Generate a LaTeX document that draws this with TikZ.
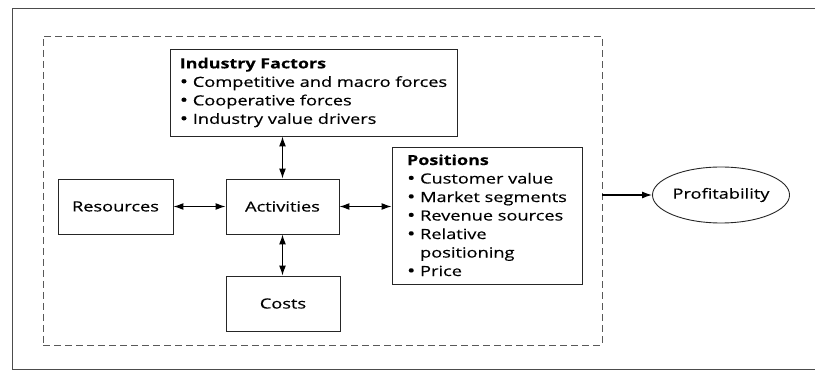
\documentclass[tikz,border=0pt]{standalone}
\usepackage{fontspec}
\setmainfont[FakeStretch=1.3,FakeBold=0.4,BoldFeatures={FakeStretch=1.28,FakeBold=0.1}]{Open Sans}
\usetikzlibrary{arrows.meta,shapes.geometric}
\newcommand{\mybul}{\raisebox{-0.6pt}{\fontsize{17}{17}\selectfont •}}
\begin{document}
\begin{tikzpicture}[x=1pt,y=-1pt,
  box/.style={draw=black!85,line width=0.9pt,inner sep=0pt,font=\fontsize{14}{18.5}\selectfont},
  dbl/.style={line width=1.2pt,{Latex[length=10pt,width=7pt]}-{Latex[length=10pt,width=7pt]}},
  sgl/.style={line width=1.2pt,-{Latex[length=10pt,width=7pt]}},
  frame/.style={draw=black!70,line width=0.9pt},
  dashbox/.style={draw=black!65,line width=0.9pt,dash pattern=on 7pt off 4pt,inner sep=0pt}]
\useasboundingbox (0,0) rectangle (815,371);
\draw[frame] (815,8) -- (12,8) -- (12,369) -- (815,369);
\node[dashbox,minimum width=559pt,minimum height=309pt] (dash) at (322.5,190.5) {};
\node[box,minimum width=287pt,minimum height=87pt,align=left] (ind) at (313.5,92.5)
  {\textbf{Industry Factors}\\\mybul{} Competitive and macro forces\\\mybul{} Cooperative forces\\\mybul{} Industry value drivers};
\node[box,minimum width=115pt,minimum height=55pt] (res) at (115.5,206.5) {Resources};
\node[box,minimum width=113pt,minimum height=55pt] (act) at (282.5,206.5) {Activities};
\node[box,minimum width=114pt,minimum height=55pt] (cost) at (283,303.5) {Costs};
\node[box,minimum width=190pt,minimum height=137pt,align=left] (pos) at (487,215.5)
  {\textbf{Positions}\\\mybul{} Customer value\\\mybul{} Market segments\\\mybul{} Revenue sources\\\mybul{} Relative\\\hphantom{\mybul{} }positioning\\\mybul{} Price};
\node[box,ellipse,minimum width=134pt,minimum height=56pt] (prof) at (721,195) {Profitability};
\draw[dbl] (ind.south -| act) -- (act.north);
\draw[dbl] (res.east) -- (act.west);
\draw[dbl] (act.east) -- (act.east -| pos.west);
\draw[dbl] (act.south) -- (act.south |- cost.north);
\draw[sgl] (dash.east |- prof) -- (prof.west);
\end{tikzpicture}
\end{document}
